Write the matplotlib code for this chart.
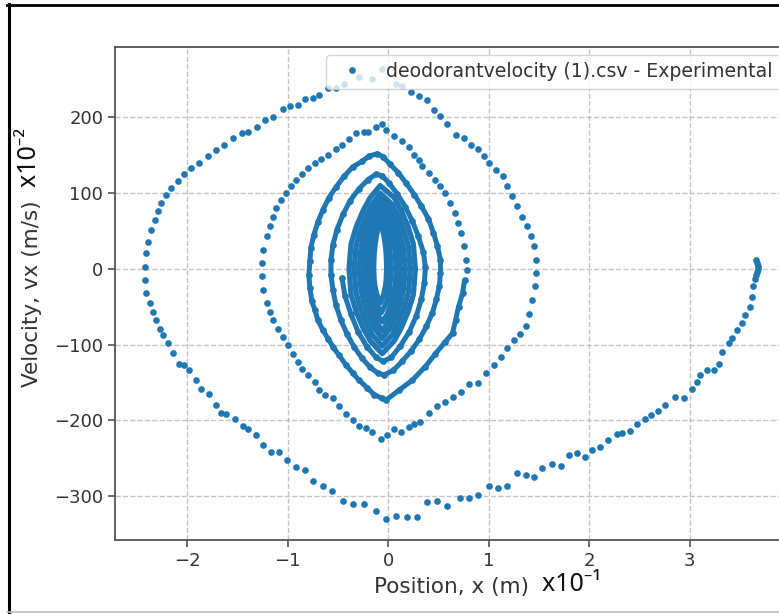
import matplotlib
matplotlib.use("Agg")
import matplotlib.pyplot as plt
from matplotlib.lines import Line2D

# ---------------- data (position x [x10^-1 m], velocity vx [x10^-2 m/s]) ----------------
# half-cycle 1: release at right, swing through the bottom to the far left
h1_x = [3.66, 3.67, 3.68, 3.68, 3.67, 3.66, 3.65, 3.63, 3.62, 3.60, 3.55, 3.52, 3.47, 3.42,
        3.39, 3.32, 3.29, 3.24, 3.17, 3.10, 3.07, 3.02, 2.94, 2.86, 2.76, 2.69, 2.62, 2.56,
        2.48, 2.41, 2.33, 2.28, 2.19, 2.11, 2.03, 1.96, 1.88, 1.80, 1.72, 1.63, 1.53, 1.45,
        1.37, 1.28, 1.18, 1.09, 1.00, 0.89, 0.80, 0.71, 0.59, 0.49, 0.39, 0.29, 0.19, 0.08,
        -0.02, -0.12, -0.24, -0.35, -0.45, -0.56, -0.65, -0.75, -0.83, -0.92, -1.01, -1.09,
        -1.17, -1.25, -1.32, -1.40, -1.45, -1.53, -1.61, -1.66, -1.71, -1.78, -1.86, -1.91,
        -1.98, -2.03, -2.08, -2.14, -2.19, -2.24, -2.27, -2.31, -2.34, -2.37, -2.41, -2.42]
h1_v = [12, 8, 4, 0, -4, -8, -14, -23, -37, -50, -61, -72, -81, -91,
        -98, -110, -125, -133, -134, -140, -149, -158, -170, -169, -180, -187, -193, -198,
        -205, -214, -217, -218, -226, -235, -239, -248, -243, -246, -260, -257, -263, -275,
        -272, -270, -287, -289, -287, -298, -303, -302, -313, -307, -308, -327, -327, -326,
        -330, -320, -311, -311, -306, -293, -287, -280, -266, -262, -252, -242,
        -242, -232, -219, -211, -207, -198, -191, -190, -180, -165, -158, -147,
        -134, -127, -125, -111, -98, -87, -79, -68, -57, -45, -32, -15]

# half-cycle 2: far left, over the top, to the right
h2_x = [-2.42, -2.41, -2.39, -2.36, -2.32, -2.29, -2.26, -2.21, -2.16, -2.09, -2.03, -1.96,
        -1.88, -1.79, -1.71, -1.63, -1.55, -1.46, -1.40, -1.31, -1.23, -1.15, -1.05, -0.98,
        -0.90, -0.83, -0.75, -0.69, -0.60, -0.52, -0.44, -0.29, -0.16, -0.06, 0.08, 0.14,
        0.23, 0.31, 0.39, 0.46, 0.52, 0.59, 0.67, 0.75, 0.82, 0.89, 0.95, 1.00, 1.07, 1.14,
        1.18, 1.23, 1.28, 1.33, 1.38, 1.42, 1.45, 1.47, 1.47]
h2_v = [3, 21, 36, 52, 65, 76, 87, 98, 107, 116, 125, 133,
        140, 149, 157, 164, 173, 179, 181, 188, 196, 200, 211, 215,
        217, 224, 225, 230, 239, 239, 244, 253, 251, 264, 244, 241,
        233, 228, 223, 210, 202, 191, 177, 173, 164, 158, 149, 140, 131, 122,
        109, 96, 83, 69, 56, 43, 30, 12, -6]

# half-cycle 3: right, through the bottom, to the left
h3_x = [1.46, 1.43, 1.40, 1.37, 1.31, 1.25, 1.18, 1.12, 1.05, 0.97, 0.89, 0.80, 0.72, 0.64,
        0.57, 0.49, 0.41, 0.32, 0.26, 0.21, 0.13, 0.06, -0.01, -0.07, -0.16, -0.22, -0.29,
        -0.35, -0.42, -0.49, -0.55, -0.63, -0.69, -0.73, -0.80, -0.86, -0.90, -0.95, -1.00,
        -1.05, -1.10, -1.15, -1.18, -1.21, -1.25, -1.26]
h3_v = [-23, -41, -59, -76, -86, -94, -105, -116, -127, -138, -151, -152, -163, -169,
        -176, -181, -190, -202, -205, -209, -215, -212, -220, -224, -215, -210, -207,
        -200, -192, -181, -170, -166, -160, -149, -140, -132, -123, -112, -101,
        -90, -79, -68, -57, -45, -28, -10]

# half-cycle 4: left, over the top, to the right
h4_x = [-1.26, -1.25, -1.21, -1.18, -1.15, -1.12, -1.07, -1.02, -0.97, -0.92, -0.86, -0.80,
        -0.73, -0.67, -0.60, -0.52, -0.46, -0.39, -0.32, -0.24, -0.20, -0.12, -0.06, -0.02,
        0.06, 0.14, 0.21, 0.26, 0.31, 0.34, 0.41, 0.47, 0.52, 0.57, 0.62, 0.66, 0.69, 0.72,
        0.75, 0.77, 0.78]
h4_v = [8, 25, 43, 56, 69, 80, 91, 100, 109, 118, 125, 133,
        140, 145, 151, 158, 164, 171, 180, 181, 181, 188, 191, 184,
        175, 169, 161, 151, 144, 136, 127, 118, 109, 100, 87, 74, 61, 47,
        30, 12, -1]

# half-cycles 5 to 9 (tighter loops)
h5_x = [0.76, 0.74, 0.70, 0.67, 0.64, 0.57, 0.47, 0.37, 0.24, 0.11, -0.02, -0.06, -0.14, -0.21,
        -0.29, -0.35, -0.42, -0.49, -0.55, -0.60, -0.65, -0.70, -0.73, -0.76, -0.78, -0.79]
h5_v = [-15, -32, -50, -68, -85, -96, -112, -129, -147, -160, -173, -171, -166, -157,
        -147, -138, -127, -114, -103, -92, -81, -68, -54, -43, -25, -8]
h6_x = [-0.78, -0.77, -0.74, -0.70, -0.65, -0.59, -0.52, -0.44, -0.35, -0.26, -0.19, -0.11,
        -0.05, 0.02, 0.10, 0.18, 0.26, 0.33, 0.40, 0.45, 0.49, 0.52, 0.52]
h6_v = [10, 28, 45, 62, 78, 94, 108, 122, 135, 142, 149, 152,
        148, 138, 127, 113, 98, 83, 66, 48, 30, 12, -5]
h7_x = [0.51, 0.48, 0.44, 0.38, 0.31, 0.23, 0.14, 0.05, -0.04, -0.10, -0.18, -0.26, -0.34,
        -0.41, -0.47, -0.52, -0.55, -0.57]
h7_v = [-22, -40, -58, -76, -93, -108, -122, -134, -140, -138, -130, -118, -103,
        -86, -68, -48, -28, -8]
h8_x = [-0.57, -0.55, -0.51, -0.45, -0.38, -0.29, -0.20, -0.12, -0.06, 0.01, 0.09, 0.17,
        0.24, 0.30, 0.35, 0.37]
h8_v = [12, 32, 52, 72, 90, 106, 118, 125, 123, 113, 99, 82, 63, 43, 22, 2]
h9_x = [0.36, 0.33, 0.28, 0.21, 0.12, 0.03, -0.05, -0.12, -0.21, -0.30, -0.37, -0.43, -0.46]
h9_v = [-18, -40, -62, -83, -102, -117, -122, -117, -103, -83, -60, -36, -12]

# dense core: successive small loops
core1_x = [0.27, 0.25, 0.20, 0.13, 0.06, -0.06, -0.18, -0.25, -0.32, -0.37, -0.39, -0.37, -0.32,
           -0.25, -0.18, -0.08, 0.06, 0.13, 0.20, 0.25, 0.27]
core1_v = [0, -34, -56, -78, -95, -112, -95, -78, -56, -34, 0, 33, 55, 77, 94, 110, 94, 77, 55, 33, 0]
core2_x = [0.22, 0.20, 0.16, 0.10, 0.04, -0.06, -0.16, -0.22, -0.28, -0.32, -0.34, -0.32, -0.28,
           -0.22, -0.16, -0.08, 0.04, 0.10, 0.16, 0.20, 0.22]
core2_v = [0, -31, -51, -71, -87, -102, -87, -71, -51, -31, 0, 30, 50, 70, 85, 100, 85, 70, 50, 30, 0]
core3_x = [0.17, 0.15, 0.12, 0.07, 0.02, -0.06, -0.14, -0.19, -0.24, -0.27, -0.29, -0.27, -0.24,
           -0.19, -0.14, -0.07, 0.02, 0.07, 0.12, 0.15, 0.17]
core3_v = [0, -28, -46, -64, -78, -92, -78, -64, -46, -28, 0, 28, 46, 64, 78, 92, 78, 64, 46, 28, 0]
core4_x = [0.12, 0.11, 0.08, 0.04, 0.00, -0.06, -0.12, -0.16, -0.20, -0.23, -0.24, -0.23, -0.20,
           -0.16, -0.12, -0.07, 0.00, 0.04, 0.08, 0.11, 0.12]
core4_v = [0, -25, -41, -57, -70, -82, -70, -57, -41, -25, 0, 25, 42, 59, 71, 84, 71, 59, 42, 25, 0]
core5_x = [0.08, 0.07, 0.05, 0.02, -0.01, -0.06, -0.11, -0.14, -0.17, -0.19, -0.20, -0.19, -0.17,
           -0.14, -0.11, -0.07, -0.01, 0.02, 0.05, 0.07, 0.08]
core5_v = [0, -21, -35, -49, -60, -70, -60, -49, -35, -21, 0, 23, 38, 53, 65, 76, 65, 53, 38, 23, 0]
core6_x = [0.03, 0.02, 0.01, -0.01, -0.035, -0.07, -0.105, -0.13, -0.15, -0.16, -0.17, -0.16, -0.15,
           -0.13, -0.105, -0.08, -0.035, -0.01, 0.01, 0.02, 0.03]
core6_v = [0, -17, -29, -41, -49, -58, -49, -41, -29, -17, 0, 20, 34, 48, 58, 68, 58, 48, 34, 20, 0]
core7_x = [-0.015, -0.02, -0.028, -0.042, -0.057, -0.08, -0.103, -0.118, -0.132, -0.14, -0.145,
           -0.14, -0.132, -0.118, -0.103, -0.085, -0.057, -0.042, -0.028, -0.02, -0.015]
core7_v = [0, -14, -23, -32, -38, -45, -38, -32, -23, -14, 0, 19, 31, 43, 53, 62, 53, 43, 31, 19, 0]

legend_label = "deodorantvelocity (1).csv - Experimental"
x_ticks = [-2, -1, 0, 1, 2, 3]
y_ticks = [-300, -200, -100, 0, 100, 200]

# ---------------- figure ----------------
BLUE = "#1f77b4"
W, H = 779, 614
fig = plt.figure(figsize=(W / 100, H / 100), dpi=100)
fig.patch.set_facecolor("white")

L, R, T, B = 115, 788, 47, 540
ax = fig.add_axes([L / W, (H - B) / H, (R - L) / W, (B - T) / H])

outer_x = h1_x + h2_x + h3_x + h4_x
outer_v = h1_v + h2_v + h3_v + h4_v
ax.plot(outer_x, outer_v, "o", ms=4.8, mew=0, color=BLUE, label=legend_label, zorder=3)

inner_x = h5_x + h6_x + h7_x + h8_x + h9_x
inner_v = h5_v + h6_v + h7_v + h8_v + h9_v
ax.plot(inner_x, inner_v, "-", lw=3.6, color=BLUE, solid_joinstyle="round",
        solid_capstyle="round", zorder=3)
ax.plot(inner_x, inner_v, "o", ms=4.8, mew=0, color=BLUE, zorder=3)

for cx, cv in [(core1_x, core1_v), (core2_x, core2_v), (core3_x, core3_v), (core4_x, core4_v),
               (core5_x, core5_v), (core6_x, core6_v), (core7_x, core7_v)]:
    ax.plot(cx, cv, "-", lw=3.8, color=BLUE, solid_joinstyle="round",
            solid_capstyle="round", zorder=3)

ax.set_xlim(-2.72, 3.98)
ax.set_ylim(-358, 293)
ax.set_xticks(x_ticks)
ax.set_yticks(y_ticks)
ax.set_xticklabels(["\u2212" + str(abs(t)) if t < 0 else str(t) for t in x_ticks])
ax.set_yticklabels(["\u2212" + str(abs(t)) if t < 0 else str(t) for t in y_ticks])
ax.tick_params(labelsize=13, length=5, width=1.1, colors="#444444", labelcolor="#333333")
ax.grid(True, linestyle="--", color="#b8b8b8", lw=1.0, alpha=0.8)
ax.set_axisbelow(True)
for s in ax.spines.values():
    s.set_color("#555555")
    s.set_linewidth(1.3)

ax.set_xlabel("Position, x (m)", fontsize=15.5, color="#333333", labelpad=5)
ax.set_ylabel("Velocity, vx (m/s)", fontsize=15.5, color="#333333", labelpad=9)
sfam = ["Liberation Sans Narrow", "Noto Sans", "DejaVu Sans"]
ax.annotate("  x10\u207b\u00b9", xy=(1, 0.0), xycoords=ax.xaxis.label, ha="left", va="bottom",
            fontsize=18, family=sfam, color="#111111")
ax.annotate("  x10\u207b\u00b2", xy=(1.0, 1.0), xycoords=ax.yaxis.label, ha="right", va="bottom",
            rotation=90, fontsize=18, family=sfam, color="#111111")

leg = ax.legend(loc="upper right", fontsize=13.6, borderaxespad=0.4, framealpha=0.8)
for t in leg.get_texts():
    t.set_color("#333333")

# screenshot frame
fig.add_artist(Line2D([8.5 / W, 8.5 / W], [1 - 4 / H, 1 - 612 / H], color="black", lw=2.2))
fig.add_artist(Line2D([7 / W, 1.0], [1 - 5 / H, 1 - 5 / H], color="black", lw=2.0))
fig.add_artist(Line2D([7 / W, 1.0], [1 - 612 / H, 1 - 612 / H], color="#bbbbbb", lw=1.2))

fig.savefig("out.png", dpi=100, facecolor="white")
